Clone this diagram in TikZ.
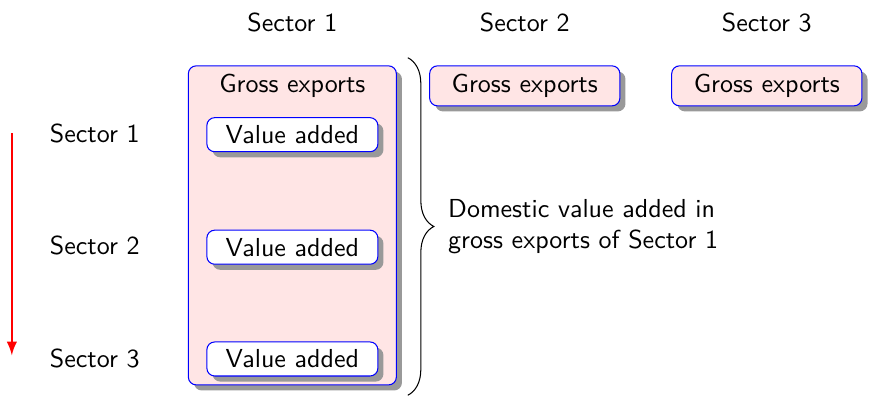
\documentclass[tikz,border=0pt]{standalone}
\usepackage{tikz}
\usetikzlibrary{shadows,decorations.pathreplacing}
\tikzset{
  sectorbox/.style={draw=blue, fill=red!10, rounded corners=3pt,
    drop shadow={fill=black!40, opacity=1}},
  vabox/.style={sectorbox, fill=white,
    minimum width=2.31cm, minimum height=0.46cm, inner sep=0pt},
  gebox/.style={sectorbox, minimum width=2.57cm, minimum height=0.54cm, inner sep=0pt}
}
\begin{document}
\begin{tikzpicture}[font=\sffamily]
\useasboundingbox (0,0) rectangle (11.93,-5.35);

%Column headings
\node (top1) at (3.95,-0.30) {Sector 1};
\node (top2) at (7.09,-0.30) {Sector 2};
\node (top3) at (10.36,-0.30) {Sector 3};

%Sector 1: gross exports split into value added
\node [sectorbox, minimum width=2.81cm, minimum height=4.31cm] (ge1) at (3.95,-3.045) {};
\node (ge1text) at (3.95,-1.16) {Gross exports};
\node [vabox] (va1) at (3.95,-1.82) {Value added};
\node [vabox] (va2) at (3.95,-3.34) {Value added};
\node [vabox] (va3) at (3.95,-4.85) {Value added};

%Sectors 2 and 3
\node [gebox] (ge2) at (7.09,-1.16) {Gross exports};
\node [gebox] (ge3) at (10.36,-1.16) {Gross exports};

%Row labels and flow
\node (row1) at (1.28,-1.80) {Sector 1};
\node (row2) at (1.28,-3.31) {Sector 2};
\node (row3) at (1.28,-4.84) {Sector 3};
\coordinate (flowtop) at (0.16,-1.80);
\coordinate (flowbot) at (0.16,-4.80);
\draw [red, thick, -latex] (flowtop) -- (flowbot);

%Brace
\coordinate (bracetop) at (5.51,-0.78);
\coordinate (bracebot) at (5.51,-5.34);
\draw [decorate, decoration={brace, amplitude=10pt}] (bracetop) -- (bracebot)
  node [midway, right=12pt, align=left] (dva) {Domestic value added in\\gross exports of Sector 1};
\end{tikzpicture}
\end{document}
